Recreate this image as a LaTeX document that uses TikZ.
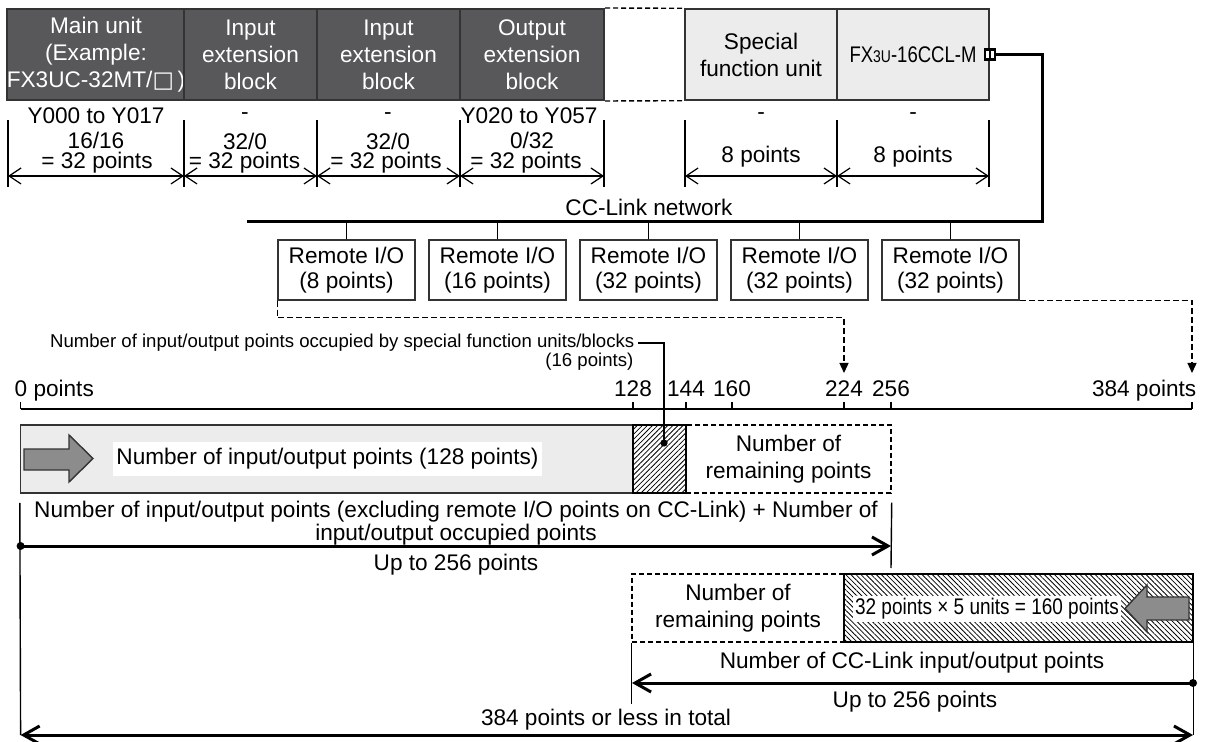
\documentclass[tikz,border=0pt]{standalone}
\usepackage{fontspec}
\usepackage{graphicx}
\setmainfont{Liberation Sans}
\newfontfamily\symfont{DejaVu Sans}
\usetikzlibrary{arrows.meta,patterns.meta}

\definecolor{unitgray}{HTML}{58585A}
\definecolor{panelgray}{HTML}{ECECEC}
\definecolor{arrowgray}{HTML}{8C8C8C}
\definecolor{edgegray}{HTML}{333333}

\tikzset{
  unit/.style={draw=edgegray, line width=1pt, fill=unitgray, text=white, minimum height=45.5pt, inner sep=0pt, align=center},
  module/.style={draw=edgegray, line width=0.7pt, fill=panelgray, minimum height=45.5pt, inner sep=0pt, align=center},
  remote/.style={draw=edgegray, line width=0.7pt, minimum width=68.5pt, minimum height=30pt, inner sep=0pt, align=center, font=\fontsize{11.3}{12.5}\selectfont},
  port/.style={draw, line width=1.1pt, fill=white, minimum size=5pt, inner sep=0pt,
    path picture={\draw[line width=0.8pt] (path picture bounding box.north) -- (path picture bounding box.south);}},
  bus/.style={line width=1.5pt},
  gapline/.style={line width=0.7pt, dash pattern=on 2.5pt off 1.5pt},
  dashbox/.style={draw, line width=0.7pt, dash pattern=on 2.5pt off 1.5pt, minimum height=34pt, inner sep=0pt, align=center},
  panel/.style={draw=edgegray, line width=0.8pt, fill=panelgray, minimum height=34pt, inner sep=0pt},
  hatchbox/.style={draw, line width=1pt, minimum height=34pt, inner sep=0pt},
  fatarrow/.style={draw=edgegray, line width=0.7pt, fill=arrowgray},
  feed/.style={line width=0.7pt, dash pattern=on 3pt off 1.5pt, -{Triangle[length=5pt,width=4.5pt]}},
  dim/.style={line width=0.6pt, {Straight Barb[length=6pt,width=8pt]}-{Straight Barb[length=6pt,width=8pt]}},
  dimtext/.style={inner sep=0pt},
  span/.style={line width=1.5pt, -{Straight Barb[length=8pt,width=9pt]}},
  spanboth/.style={line width=1.5pt, {Straight Barb[length=8pt,width=9pt]}-{Straight Barb[length=8pt,width=9pt]}},
  smalltext/.style={font=\fontsize{9.3}{11}\selectfont}
}

\begin{document}
\begin{tikzpicture}[x=0.5pt, y=-0.5pt, font=\fontsize{11.3}{13.5}\selectfont, line width=0.7pt]
\useasboundingbox (0,0) rectangle (1208,742);

% units along the extension bus
\node[unit, minimum width=88pt] (main) at (96,54.5) {Main unit\\(Example:\\FX3UC-32MT/{\symfont □}\,)};
\node[unit, minimum width=66.5pt] (inA) at (250.5,54.5) {Input\\extension\\block};
\node[unit, minimum width=71.5pt] (inB) at (388.5,54.5) {Input\\extension\\block};
\node[unit, minimum width=72pt] (outC) at (532,54.5) {Output\\extension\\block};
\node[module, minimum width=76pt] (special) at (761,54.5) {Special\\function unit};
\node[module, minimum width=76pt] (ccl) at (913,54.5) {\scalebox{0.82}[1]{FX{\fontsize{8.5}{10}\selectfont 3U}-16CCL-M}};
\draw[gapline] (outC.north east) -- (special.north west);
\draw[gapline] (outC.south east) -- (special.south west);
\node[port] (port) at (ccl.east) {};

% occupied points per unit
\foreach \x [count=\i] in {8,184,317,460,604,685,837,989} {
  \draw (\x,120) -- (\x,187);
  \coordinate (e\i) at (\x,176);
}
\draw[dim] (e1) -- (e2);
\draw[dim] (e2) -- (e3);
\draw[dim] (e3) -- (e4);
\draw[dim] (e4) -- (e5);
\draw[dim] (e6) -- (e7);
\draw[dim] (e7) -- (e8);
\node[dimtext] (dA1) at (96,116) {Y000 to Y017};
\node[dimtext] (dA2) at (96,140) {16/16};
\node[dimtext] (dA3) at (97,163) {= 32 points};
\node[dimtext] (dB1) at (245,116) {-};
\node[dimtext] (dB2) at (245,141) {32/0};
\node[dimtext] (dB3) at (244.5,163) {= 32 points};
\node[dimtext] (dC1) at (388,116) {-};
\node[dimtext] (dC2) at (388,141) {32/0};
\node[dimtext] (dC3) at (386,163) {= 32 points};
\node[dimtext] (dD1) at (529,116) {Y020 to Y057};
\node[dimtext] (dD2) at (532,140) {0/32};
\node[dimtext] (dD3) at (526,163) {= 32 points};
\node[dimtext] (dE1) at (761,116) {-};
\node[dimtext] (dE2) at (761,157) {8 points};
\node[dimtext] (dF1) at (913,116) {-};
\node[dimtext] (dF2) at (913,157) {8 points};

% CC-Link network and remote stations
\coordinate (busR) at (1042,222);
\coordinate (busL) at (247,222);
\draw[bus] (port.east) -| (busR) -- (busL);
\node (netlab) at (649,207) {CC-Link network};
\foreach \i/\x/\p in {1/346.5/8,2/497.5/16,3/648.5/32,4/799.5/32,5/950.5/32} {
  \node[remote] (rio\i) at (\x,270) {Remote I/O\\(\p\ points)};
  \draw (rio\i.north) -- (rio\i.north |- busL);
}
\coordinate (to224) at (844,373);
\coordinate (to384) at (1192,373);
\draw[feed] (rio1.south west) -- ++(0,17) -| (to224);
\draw[feed] (rio5.south east) -| (to384);

% point scale
\foreach \v/\x in {0/20.6,128/633,144/686,160/732,224/844,256/891,384/1192} {
  \coordinate (t\v) at (\x,409);
  \draw (t\v) -- ++(0,-7);
}
\draw (t0) -- (t384);
\node[anchor=base west, inner sep=0pt] (n0) at (14,397) {0 points};
\foreach \v in {128,144,160,224,256}
  \path (t\v) ++(0,-12) node[anchor=base, inner sep=0pt] (n\v) {\v};
\node[anchor=base east, inner sep=0pt] (n384) at (1197,397) {384 points};

% main unit side
\node[dashbox, minimum width=102.5pt] (rest1) at (788.5,459) {Number of\\remaining points};
\node[panel, minimum width=306.2pt] (io) at (326.8,459) {};
\node[hatchbox, pattern={Lines[angle=45,distance=1.8pt,line width=0.4pt]}, minimum width=26.5pt] (occ) at (659.5,459) {};
\draw[fatarrow] (24,449) -- (69,449) -- (69,435) -- (93,458.5) -- (69,482) -- (69,470) -- (24,470) -- cycle;
\node[fill=white, inner xsep=1.5pt, minimum height=16pt] (io128) at (327.5,459) {Number of input/output points (128 points)};
\node[smalltext, anchor=east, inner sep=1.5pt] (occlab) at (638,343) {Number of input/output points occupied by special function units/blocks};
\node[smalltext, anchor=east, inner sep=1.5pt] (occpts) at (637,362) {(16 points)};
\coordinate (occdot) at (664,443);
\draw (occlab.east) -| (occdot);
\fill (occdot) circle (1.8pt);

\draw (io.south west) ++(0,9) coordinate (lt) -- (20.6,735) coordinate (lb);
\draw (rest1.south east) ++(0,9) coordinate (rt) -- (891,568) coordinate (rb);
\node[align=center, font=\fontsize{11.3}{10.2}\selectfont] (iosum) at (456,523) {Number of input/output points (excluding remote I/O points on CC-Link) + Number of\\input/output occupied points};
\coordinate (s0) at (20.6,546);
\coordinate (s256) at (891,546);
\draw[span] (s0) -- (s256);
\fill (s0) circle (2pt);
\node (up1) at (456,565) {Up to 256 points};

% CC-Link side
\node[dashbox, minimum width=106pt] (rest2) at (738,608) {Number of\\remaining points};
\node[hatchbox, pattern={Lines[angle=-45,distance=1.8pt,line width=0.4pt]}, minimum width=174.5pt] (cc) at (1018.5,608) {};
\node[fill=white, inner sep=1pt] (ccsum) at (987,609) {\scalebox{0.84}[1]{32 points × 5 units = 160 points}};
\draw[fatarrow] (1125,608.5) -- (1147,585) -- (1147,597) -- (1189,597) -- (1189,620) -- (1147,620) -- (1147,632) -- cycle;
\draw (rest2.south west) -- ++(0,61);
\draw (cc.south east) -- ++(0,93);
\node (ccnum) at (912,663) {Number of CC-Link input/output points};
\coordinate (c0) at (1193,683);
\coordinate (c256) at (632,683);
\draw[span] (c0) -- (c256);
\fill (c0) circle (2pt);
\node (up2) at (915,702) {Up to 256 points};

% total
\node (total) at (606,720) {384 points or less in total};
\coordinate (tl) at (20.6,735);
\coordinate (tr) at (1193,735);
\draw[spanboth] (tl) -- (tr);
\end{tikzpicture}
\end{document}
